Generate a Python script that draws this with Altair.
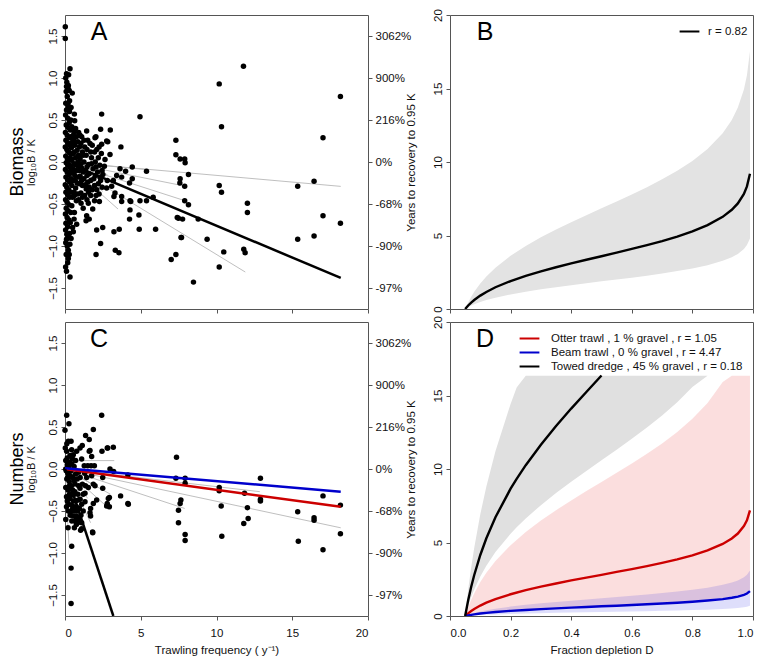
import altair as alt
import pandas as pd

FONT = "Liberation Sans"
W, H = 303, 294
TXT = 11.5
FRAME = "#555555"
INK = "#111111"
GREY_FIT = "#b8b8b8"

# ---------------- ticks / labels ----------------
logratio_ticks = [-1.5, -1.0, -0.5, 0.0, 0.5, 1.0, 1.5]
pct_labels = ["-97%", "-90%", "-68%", "0%", "216%", "900%", "3062%"]
freq_ticks = [0, 5, 10, 15, 20]
depl_ticks = [0.0, 0.2, 0.4, 0.6, 0.8, 1.0]
years_ticks = [0, 5, 10, 15, 20]
panel_letters = ["A", "B", "C", "D"]
row_labels = ["Biomass", "Numbers"]

# ---------------- Panel A (biomass) ----------------
a_pts = [
    (4.95, 0.54), (10.18, 0.93), (11.78, 1.14), (10.33, 0.42), (18.18, 0.78), (17.03, 0.29),
    (7.32, 0.26), (7.32, 0.085), (7.6, 0.035), (7.9, 0.035), (7.93, -0.01), (8.15, -0.15),
    (7.6, -0.2), (7.58, -0.25), (7.9, -0.29), (7.9, -0.46), (8.15, -0.51), (7.49, -0.67),
    (7.76, -0.68), (8.79, -0.68), (7.69, -0.9), (9.38, -0.92), (7.01, -1.16), (7.32, -1.1),
    (8.48, -1.43), (10.18, -0.28), (10.33, -0.36), (12.04, -0.49), (12.04, -0.6), (10.48, -1.07),
    (10.18, -1.25), (11.8, -1.04), (11.89, -1.08), (15.36, -0.29), (16.44, -0.23), (15.36, -0.92),
    (16.44, -0.88), (17.03, -0.64), (18.18, -0.73), (5.82, -0.42), (5.38, -0.46), (4.95, -0.46),
    (5.98, -0.8), (4.9, -0.8), (4.88, -0.63), (4.44, -0.06), (5.38, -0.11), (4.0, -0.11),
    (4.44, -0.2), (4.26, -0.25), (4.29, -0.46), (4.29, -0.57), (4.26, -0.68), (3.58, -0.8),
    (3.23, -0.83), (3.32, -1.05), (3.56, -1.08), (2.35, -0.97), (2.05, -1.10), (2.49, -0.78),
    (2.09, -0.81), (3.69, 0.18), (2.99, 0.38), (2.42, 0.57), (2.35, 0.39), (1.43, 0.37),
    (2.75, 0.25), (2.97, 0.09), (2.04, 0.30), (0.99, 0.32), (0.62, 0.57), (0.64, 0.49),
    (0.33, 1.11), (0.24, 1.04), (0.22, 0.91), (0.48, 0.82), (0.02, 1.61), (0.02, 1.47),
    (0.33, -1.37), (0.22, -1.15), (0.22, -1.05), (0.10, -0.92), (0.40, -0.91), (0.55, -0.83),
    (0.77, -0.74), (0.62, -0.60), (1.06, -0.49), (1.54, -0.49), (1.43, -0.64), (1.39, -0.70),
    (1.60, -0.68), (1.83, -0.56), (2.27, -0.47), (3.74, -0.47), (4.34, -0.47), (3.30, -0.37),
    (3.23, -0.41), (3.74, -0.41), (3.08, -0.29), (2.75, -0.31), (3.19, -0.22), (2.79, -0.22),
    (3.41, -0.16), (3.74, -0.18), (3.63, -0.08), (2.64, 0.03), (2.82, 0.24), (2.42, 0.21),
    (1.98, 0.29), (7.41, -0.66), (7.66, -0.90),
    (0.05, 1.0), (0.12, 0.95), (0.2, 0.88), (0.08, 0.84), (0.15, 0.78), (0.3, 0.73), (0.05, 0.7),
    (0.22, 0.66), (0.1, 0.62), (0.3, 0.6), (0.04, 0.56), (0.18, 0.52), (0.28, 0.47), (0.08, 0.44),
    (0.2, 0.41), (0.35, 0.38), (0.03, 0.35), (0.14, 0.32), (0.26, 0.29), (0.06, 0.26), (0.18, 0.23),
    (0.32, 0.2), (0.02, 0.18), (0.12, 0.15), (0.24, 0.12), (0.36, 0.1), (0.05, 0.07), (0.16, 0.04),
    (0.28, 0.02), (0.08, -0.01), (0.2, -0.04), (0.34, -0.06), (0.03, -0.09), (0.14, -0.12),
    (0.26, -0.15), (0.06, -0.18), (0.18, -0.21), (0.32, -0.24), (0.02, -0.27), (0.12, -0.3),
    (0.24, -0.33), (0.06, -0.36), (0.18, -0.39), (0.3, -0.42), (0.04, -0.45), (0.14, -0.48),
    (0.26, -0.51), (0.08, -0.55), (0.2, -0.58), (0.03, -0.62), (0.14, -0.66), (0.26, -0.69),
    (0.06, -0.73), (0.18, -0.77), (0.04, -0.81), (0.12, -0.86), (0.22, -0.9), (0.05, -0.96),
    (0.15, -1.0), (0.08, -1.1), (0.18, -1.2), (0.04, -1.25),
    (0.45, 0.42), (0.6, 0.36), (0.75, 0.3), (0.5, 0.27), (0.85, 0.24), (0.65, 0.2), (0.42, 0.17),
    (0.8, 0.14), (0.55, 0.1), (0.9, 0.08), (0.7, 0.05), (0.45, 0.02), (0.6, -0.02), (0.85, -0.04),
    (0.5, -0.08), (0.75, -0.1), (0.42, -0.13), (0.65, -0.16), (0.9, -0.18), (0.55, -0.22),
    (0.8, -0.25), (0.45, -0.28), (0.7, -0.31), (0.6, -0.36), (0.85, -0.38), (0.5, -0.42),
    (0.75, -0.46), (0.45, -0.52), (0.6, -0.68), (0.5, -0.78),
    (1.05, 0.22), (1.3, 0.18), (1.5, 0.26), (1.15, 0.12), (1.4, 0.08), (1.0, 0.04), (1.25, 0.0),
    (1.55, -0.03), (1.1, -0.07), (1.35, -0.1), (1.6, -0.14), (1.0, -0.17), (1.25, -0.2),
    (1.5, -0.24), (1.15, -0.28), (1.4, -0.32), (1.05, -0.37), (1.3, -0.4), (1.55, -0.36), (1.2, -0.55),
    (1.8, 0.2), (2.1, 0.15), (2.4, 0.1), (1.75, 0.05), (2.0, 0.0), (2.3, -0.04), (1.85, -0.08),
    (2.15, -0.12), (2.5, -0.15), (1.9, -0.2), (2.2, -0.26), (2.45, -0.3), (1.8, -0.33), (2.05, -0.4),
    (2.6, -0.05), (2.35, -0.22),
    (0.35, 0.3), (0.55, 0.32), (0.7, 0.4), (0.9, 0.35), (1.1, 0.3), (1.25, 0.26), (1.65, 0.22),
    (1.95, 0.12), (2.2, 0.05), (0.4, 0.22), (0.6, 0.25), (0.95, 0.18), (1.2, 0.08), (1.45, 0.15),
    (1.7, 0.12), (2.25, 0.18), (0.35, 0.05), (0.62, 0.12), (0.85, 0.0), (1.05, -0.02), (1.45, -0.06),
    (1.75, -0.02), (2.05, -0.06), (2.45, -0.1), (0.38, -0.1), (0.58, -0.12), (0.95, -0.1),
    (1.2, -0.12), (1.45, -0.16), (1.7, -0.22), (2.0, -0.16), (2.3, -0.18), (0.4, -0.2), (0.68, -0.22),
    (0.95, -0.26), (1.1, -0.22), (1.35, -0.27), (1.6, -0.3), (1.95, -0.28), (2.1, -0.33),
    (0.4, -0.36), (0.62, -0.4), (0.9, -0.45), (1.15, -0.42), (1.45, -0.45), (1.7, -0.4),
    (1.95, -0.46), (2.25, -0.38), (0.38, -0.6), (0.35, -0.72), (0.3, -0.85), (0.28, -1.1),
    (0.1, -1.3), (0.32, -0.98), (0.1, 0.9), (0.28, 0.85), (0.1, 1.05), (0.2, 0.7), (0.38, 0.5),
    (0.4, 0.65),
]
a_fit_x = [0.0, 18.2]
a_fit_y = [0.0, -1.38]
a_seg_x0 = [0, 0, 0, 0, 0, 0, 0, 0, 0, 0, 0]
a_seg_y0 = [0, 0, 0, 0, 0, 0, 0, 0, 0, 0, 0]
a_seg_x1 = [18.2, 11.9, 3.5, 7.9, 8.0, 5.4, 2.5, 2.0, 1.5, 2.8, 1.2]
a_seg_y1 = [-0.29, -1.31, -0.56, -0.46, -0.29, -0.09, -0.35, -0.22, -0.28, -0.15, -0.12]

# ---------------- Panel C (numbers) ----------------
c_pts = [
    (2.42, 0.64), (0.11, 0.64), (0.26, 0.54), (0.0, 0.46), (1.87, 0.47), (1.36, 0.40), (1.60, 0.35),
    (1.65, 0.22), (1.14, 0.28), (0.99, 0.25), (0.77, 0.21), (0.40, 0.33), (0.22, 0.33), (0.55, 0.17),
    (3.19, 0.26), (2.79, 0.25), (2.44, 0.21), (7.36, 0.14), (12.9, -0.11), (7.32, -0.11), (7.93, -0.11),
    (7.93, -0.17), (4.15, -0.07), (3.21, -0.03), (2.97, 0.0), (10.18, -0.22), (10.18, -0.26),
    (11.85, -0.29), (12.9, -0.36), (12.9, -0.38), (7.65, -0.37), (7.6, -0.41), (7.49, -0.49),
    (10.31, -0.44), (12.04, -0.46), (12.09, -0.59), (11.8, -0.65), (7.49, -0.64), (7.93, -0.78),
    (7.93, -0.85), (10.35, -0.8), (15.36, -0.51), (16.44, -0.58), (16.44, -0.61), (17.03, -0.32),
    (18.18, -0.43), (18.18, -0.77), (17.03, -0.96), (15.4, -0.86), (3.67, -0.32), (4.15, -0.41),
    (2.86, -0.35), (2.79, -0.41), (2.75, -0.44), (1.82, -0.75), (1.69, -0.47), (1.69, -0.56),
    (0.44, -0.92), (0.40, -1.18), (0.40, -1.6), (1.10, -0.71), (0.73, -0.56), (0.51, -0.47),
    (0.84, -0.64), (0.44, 0.23), (0.11, 0.21), (0.33, 0.16), (0.15, 0.13), (1.6, 0.21), (1.76, 0.15),
    (2.82, 0.25), (1.27, 0.04), (1.5, 0.04), (1.72, 0.04), (1.94, 0.04), (2.49, -0.10), (1.76, -0.08),
    (1.43, -0.10), (1.87, -0.18), (1.98, -0.20), (1.54, -0.22), (2.49, -0.23), (1.32, -0.29),
    (0.99, -0.23), (0.66, -0.18), (0.55, -0.31), (0.33, -0.35), (0.88, -0.37), (0.44, -0.43),
    (2.93, -0.34), (2.93, -0.45), (4.18, -0.42), (2.09, -0.37), (1.87, -0.41), (1.32, -0.39),
    (1.65, -0.52), (0.37, -0.51), (0.55, -0.56), (0.77, -0.58), (0.88, -0.60), (1.10, -0.64),
    (1.03, -0.73), (1.83, -0.76),
    (0.05, 0.1), (0.15, 0.05), (0.3, 0.08), (0.45, 0.06), (0.6, 0.03), (0.08, -0.02), (0.2, -0.05),
    (0.35, -0.08), (0.5, -0.1), (0.7, -0.06), (0.9, -0.04), (0.12, -0.12), (0.28, -0.15), (0.42, -0.2),
    (0.6, -0.14), (0.8, -0.12), (1.0, -0.1), (0.05, -0.22), (0.2, -0.25), (0.3, -0.3), (0.65, -0.27),
    (0.75, -0.45), (0.95, -0.47), (0.6, -0.5), (1.2, -0.5), (0.25, -0.42), (0.1, -0.33), (0.85, -0.3),
    (1.15, -0.18), (1.3, -0.05), (0.55, -0.38), (1.05, -0.55), (0.65, -0.62),
    (0.05, 0.0), (0.18, -0.1), (0.3, -0.2), (0.42, -0.3), (0.5, -0.25), (0.15, -0.38), (0.22, -0.5),
    (0.35, -0.55), (0.45, -0.62), (0.58, -0.45), (0.7, -0.38), (0.8, -0.5), (0.95, -0.58),
    (0.62, -0.7), (0.75, -0.66), (1.0, -0.36), (1.2, -0.3), (1.1, -0.42), (0.9, -0.2), (0.4, -0.02),
    (0.25, 0.02), (0.7, 0.1), (1.1, 0.12), (0.5, 0.12), (1.35, -0.2), (0.1, -0.45), (0.05, -0.6),
    (0.2, -0.7), (0.12, 0.3), (0.02, 0.25),
]
c_otter_x = [0.0, 18.2]
c_otter_y = [0.0, -0.45]
c_beam_x = [0.0, 18.2]
c_beam_y = [0.01, -0.27]
c_dredge_x = [0.0, 3.19]
c_dredge_y = [0.0, -1.75]
c_seg_x0 = [0, 0, 0, 0, 0, 0, 0, 0, 0, 0, 0]
c_seg_y0 = [0.1, 0, 0, 0, 0, 0, 0, 0, 0, 0, 0]
c_seg_x1 = [3.25, 18.2, 12.86, 7.9, 1.69, 0.26, 3.0, 1.5, 2.2, 1.0, 2.9]
c_seg_y1 = [0.1, -0.70, -0.27, -0.47, -0.64, -0.9, -0.3, -0.35, -0.22, -0.2, -0.47]

# ---------------- Panel B / D (recovery curves) ----------------
depl = [0.05, 0.06, 0.07, 0.08, 0.1, 0.12, 0.15, 0.2, 0.25, 0.3, 0.35, 0.4, 0.45, 0.5,
        0.55, 0.6, 0.65, 0.7, 0.75, 0.8, 0.85, 0.9, 0.93, 0.95, 0.97, 0.98, 0.99]
b_mid = [0, 0.24, 0.44, 0.61, 0.91, 1.16, 1.48, 1.90, 2.25, 2.56, 2.84, 3.10, 3.35, 3.59,
         3.84, 4.09, 4.35, 4.62, 4.93, 5.28, 5.71, 6.27, 6.75, 7.18, 7.83, 8.34, 9.20]
b_hi = [0, 0.45, 0.83, 1.17, 1.74, 2.21, 2.81, 3.62, 4.29, 4.88, 5.41, 5.90, 6.38, 6.85,
        7.31, 7.79, 8.29, 8.82, 9.40, 10.07, 10.88, 11.96, 12.86, 13.70, 14.93, 15.90, 17.53]
b_lo = [0, 0.12, 0.23, 0.32, 0.48, 0.61, 0.77, 0.99, 1.18, 1.34, 1.48, 1.62, 1.75, 1.88,
        2.00, 2.13, 2.27, 2.42, 2.58, 2.76, 2.98, 3.28, 3.52, 3.75, 4.09, 4.35, 4.80]
b_label = "r = 0.82"

otter_mid = [0, 0.18, 0.34, 0.48, 0.71, 0.91, 1.15, 1.48, 1.76, 2.00, 2.21, 2.42, 2.61, 2.80,
             3.00, 3.19, 3.39, 3.61, 3.85, 4.12, 4.46, 4.90, 5.27, 5.61, 6.12, 6.51, 7.18]
otter_hi = [0, 0.60, 1.11, 1.55, 2.31, 2.95, 3.75, 4.82, 5.72, 6.49, 7.20, 7.86, 8.50, 9.11,
            9.74, 10.37, 11.03, 11.74, 12.52, 13.41, 14.49, 15.92, 16.35, 16.35, 16.35, 16.35, 16.35]
otter_lo = [0, 0.05, 0.09, 0.12, 0.18, 0.23, 0.29, 0.37, 0.44, 0.50, 0.55, 0.61, 0.65, 0.70,
            0.75, 0.80, 0.85, 0.91, 0.96, 1.03, 1.12, 1.23, 1.32, 1.41, 1.53, 1.63, 1.80]
beam_mid = [0, 0.04, 0.08, 0.11, 0.17, 0.21, 0.27, 0.35, 0.41, 0.47, 0.52, 0.57, 0.61, 0.66,
            0.70, 0.75, 0.80, 0.85, 0.90, 0.97, 1.05, 1.15, 1.24, 1.32, 1.44, 1.53, 1.69]
beam_hi = [0, 0.08, 0.15, 0.21, 0.31, 0.39, 0.50, 0.64, 0.76, 0.86, 0.96, 1.04, 1.13, 1.21,
           1.29, 1.38, 1.47, 1.56, 1.66, 1.78, 1.93, 2.12, 2.28, 2.42, 2.64, 2.81, 3.10]
beam_lo = [0, 0.02, 0.03, 0.05, 0.07, 0.09, 0.11, 0.14, 0.17, 0.19, 0.22, 0.24, 0.25, 0.27,
           0.29, 0.31, 0.33, 0.35, 0.37, 0.40, 0.43, 0.48, 0.51, 0.55, 0.59, 0.63, 0.70]

dredge_depl = [0.05, 0.06, 0.07, 0.08, 0.1, 0.12, 0.15, 0.2, 0.22, 0.25, 0.3, 0.35, 0.4,
               0.45, 0.5, 0.55, 0.6, 0.65, 0.7, 0.75, 0.8, 0.85]
dredge_hi = [0, 1.79, 3.31, 4.65, 6.92, 8.81, 11.20, 14.43, 15.55, 16.35, 16.35, 16.35, 16.35,
             16.35, 16.35, 16.35, 16.35, 16.35, 16.35, 16.35, 16.35, 16.35]
dredge_lo = [0, 0.69, 1.29, 1.81, 2.69, 3.42, 4.35, 5.60, 6.04, 6.64, 7.54, 8.36, 9.13,
             9.87, 10.59, 11.31, 12.05, 12.82, 13.64, 14.54, 15.58, 16.35]
dredge_line_depl = [0.05, 0.06, 0.07, 0.08, 0.1, 0.12, 0.15, 0.2, 0.22, 0.25, 0.3, 0.35, 0.4, 0.45, 0.5]
dredge_mid = [0, 1.07, 1.99, 2.79, 4.15, 5.29, 6.72, 8.66, 9.33, 10.26, 11.65, 12.92, 14.11, 15.24, 16.36]

d_labels = ["Otter trawl , 1 % gravel , r = 1.05",
            "Beam trawl , 0 % gravel , r = 4.47",
            "Towed dredge , 45 % gravel , r = 0.18"]
d_colors = ["#cc0000", "#0000cc", "#000000"]


# ---------------- helpers ----------------
def pct_expr():
    e = "''"
    for v, lab in zip(logratio_ticks, pct_labels):
        e = f"abs(datum.value - ({v})) < 0.01 ? '{lab}' : ({e})"
    return e


def x_freq(show):
    kw = dict(values=freq_ticks, labels=show, format="d", labelPadding=7, titlePadding=6)
    kw["title"] = "Trawling frequency ( y⁻¹)" if show else None
    return alt.X("x:Q", scale=alt.Scale(domain=[0, 20], nice=False, zero=False), axis=alt.Axis(**kw))


LR_SCALE = alt.Scale(domain=[-1.75, 1.75], nice=False, zero=False)


def y_lr():
    return alt.Y("y:Q", scale=LR_SCALE,
                 axis=alt.Axis(values=logratio_ticks, format=".1f", labelAngle=270,
                               labelAlign="center", labelBaseline="bottom", labelPadding=3,
                               title="log₁₀B / K", titleFontSize=11, titlePadding=11))


def label_text(txt, x, y, size, angle=0):
    return alt.Chart(pd.DataFrame({"t": [txt]})).mark_text(
        font=FONT, fontSize=size, align="center", baseline="middle", angle=angle, color="black"
    ).encode(x=alt.value(x), y=alt.value(y), text="t:N")


def scatter_panel(pts, sx0, sy0, sx1, sy1, fits, letter, row_label, show_x):
    X = x_freq(show_x)
    Y = y_lr()
    pts_df = pd.DataFrame(pts, columns=["x", "y"])
    rows = []
    for i, (x0, y0, x1, y1) in enumerate(zip(sx0, sy0, sx1, sy1)):
        rows.append({"seg": i, "x": x0, "y": y0})
        rows.append({"seg": i, "x": x1, "y": y1})
    segs = alt.Chart(pd.DataFrame(rows)).mark_line(
        color=GREY_FIT, strokeWidth=0.9, clip=True).encode(x=X, y=Y, detail="seg:N")
    fit_layers = []
    for xs, ys, col in fits:
        fit_layers.append(alt.Chart(pd.DataFrame({"x": xs, "y": ys})).mark_line(
            color=col, strokeWidth=2.5, clip=True).encode(x=X, y=Y))
    dots = alt.Chart(pts_df).mark_circle(size=30, color="black", opacity=1).encode(x=X, y=Y)
    let = label_text(letter, 34, 17, 25)
    row = label_text(row_label, -47, H / 2, 18, angle=270)
    inner = alt.layer(segs, dots, *fit_layers, let, row)
    right = alt.Chart(pts_df).mark_circle(opacity=0).encode(
        x=X,
        y=alt.Y("y:Q", scale=LR_SCALE,
                axis=alt.Axis(orient="right", values=logratio_ticks, labelExpr=pct_expr(),
                              labelAngle=0, labelAlign="left", labelBaseline="middle",
                              labelPadding=3, title=None)))
    return alt.layer(inner, right).resolve_scale(y="independent").properties(width=W, height=H)


def recovery_panel(bands, lines_df, dom, rng, lx, ly, loff, letter, show_x):
    xkw = dict(values=depl_ticks, labels=show_x, format=".1f", labelPadding=7, titlePadding=6)
    xkw["title"] = "Fraction depletion D" if show_x else None
    X = alt.X("D:Q", scale=alt.Scale(domain=[0, 1], nice=False, zero=False), axis=alt.Axis(**xkw))
    Y = alt.Y("yrs:Q", scale=alt.Scale(domain=[0, 20], nice=False, zero=False),
              axis=alt.Axis(values=years_ticks, format="d", labelAngle=270, labelAlign="center",
                            labelBaseline="bottom", labelPadding=3,
                            title="Years to recovery to 0.95 K", titlePadding=16))
    layers = []
    for df, col, op in bands:
        layers.append(alt.Chart(df).mark_area(color=col, opacity=op, clip=True).encode(
            x=X, y=Y, y2="lo:Q"))
    layers.append(alt.Chart(lines_df).mark_line(strokeWidth=2.4, clip=True).encode(
        x=X, y=Y,
        color=alt.Color("series:N", scale=alt.Scale(domain=dom, range=rng),
                        legend=alt.Legend(title=None, orient="none", legendX=lx, legendY=ly,
                                          symbolType="M-1.4,0L1.4,0", symbolSize=200,
                                          symbolStrokeWidth=2, labelFontSize=TXT, labelFont=FONT,
                                          labelColor=INK, labelLimit=500, rowPadding=0,
                                          labelOffset=loff, padding=0))))
    layers.append(label_text(letter, 35, 17, 25))
    return alt.layer(*layers).properties(width=W, height=H)


# ---------------- build panels ----------------
pA = scatter_panel(a_pts, a_seg_x0, a_seg_y0, a_seg_x1, a_seg_y1,
                   [(a_fit_x, a_fit_y, "black")], panel_letters[0], row_labels[0], False)
pC = scatter_panel(c_pts, c_seg_x0, c_seg_y0, c_seg_x1, c_seg_y1,
                   [(c_otter_x, c_otter_y, d_colors[0]), (c_beam_x, c_beam_y, d_colors[1]),
                    (c_dredge_x, c_dredge_y, d_colors[2])],
                   panel_letters[2], row_labels[1], True)

b_band = pd.DataFrame({"D": depl, "yrs": b_hi, "lo": b_lo})
b_line = pd.DataFrame({"D": depl, "yrs": b_mid, "series": b_label})
pB = recovery_panel([(b_band, "#e3e3e3", 1.0)], b_line, [b_label], ["black"],
                    231, 8, 10, panel_letters[1], False)

dredge_band = pd.DataFrame({"D": dredge_depl, "yrs": dredge_hi, "lo": dredge_lo})
otter_band = pd.DataFrame({"D": depl, "yrs": otter_hi, "lo": otter_lo})
beam_band = pd.DataFrame({"D": depl, "yrs": beam_hi, "lo": beam_lo})
d_lines = pd.concat([
    pd.DataFrame({"D": depl, "yrs": otter_mid, "series": d_labels[0]}),
    pd.DataFrame({"D": depl, "yrs": beam_mid, "series": d_labels[1]}),
    pd.DataFrame({"D": dredge_line_depl, "yrs": dredge_mid, "series": d_labels[2]}),
], ignore_index=True)
pD = recovery_panel([(dredge_band, "#e0e0e0", 1.0), (otter_band, "#dd0000", 0.13),
                     (beam_band, "#0000dd", 0.13)],
                    d_lines, d_labels, d_colors, 71, 8, 13, panel_letters[3], True)

chart = alt.concat(
    pA, pB, pC, pD, columns=2,
    spacing={"row": 13, "column": 82}, bounds="flush",
    padding={"left": 0, "top": 0, "right": 0, "bottom": 0},
).resolve_scale(color="independent").configure(font=FONT).configure_view(
    stroke=FRAME, strokeWidth=1
).configure_axis(
    labelFont=FONT, titleFont=FONT, labelFontSize=TXT, titleFontSize=TXT,
    labelColor=INK, titleColor=INK, titleFontWeight="normal", tickColor=FRAME, tickSize=4,
    domain=False, grid=False
)

chart.save("out.html", embed_options={"renderer": "svg", "actions": False})
